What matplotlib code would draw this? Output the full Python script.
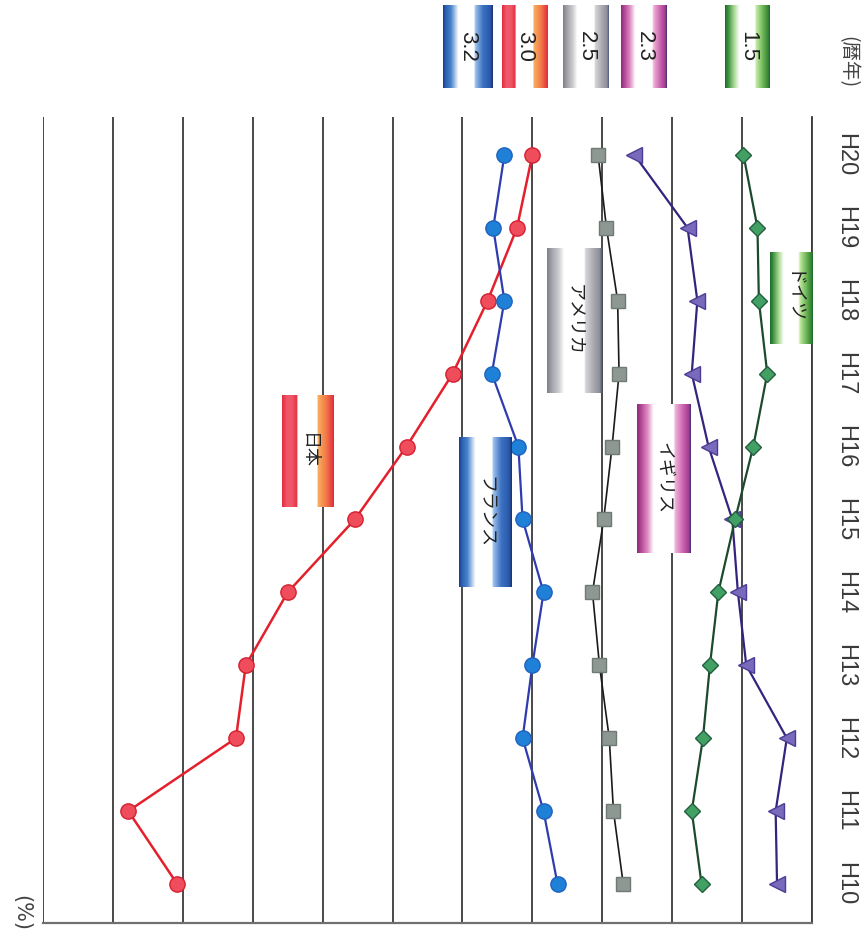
import matplotlib.pyplot as plt
import numpy as np
from matplotlib.colors import LinearSegmentedColormap

# data (values in %)
years = np.arange(10, 21)
year_labels = ["H%d" % y for y in years]

japan = [5.54, 5.89, 5.12, 5.05, 4.75, 4.27, 3.90, 3.57, 3.32, 3.11, 3.00]
france = [2.82, 2.92, 3.07, 3.00, 2.92, 3.07, 3.10, 3.29, 3.20, 3.28, 3.20]
usa = [2.35, 2.42, 2.45, 2.52, 2.57, 2.49, 2.43, 2.38, 2.39, 2.47, 2.53]
uk = [1.25, 1.26, 1.18, 1.47, 1.53, 1.57, 1.74, 1.86, 1.82, 1.89, 2.27]
germany = [1.79, 1.86, 1.78, 1.73, 1.67, 1.55, 1.42, 1.32, 1.38, 1.39, 1.49]

latest = ["3.2", "3.0", "2.5", "2.3", "1.5"]
names = ["日本", "フランス", "アメリカ", "イギリス", "ドイツ"]

W, H = 868, 939
fig = plt.figure(figsize=(W / 100, H / 100), dpi=100)

# main axes (chart is drawn turned on its side: value goes right->left)
ax_left, ax_right, ax_top, ax_bot = 43, 812, 117, 923
ax = fig.add_axes([ax_left / W, (H - ax_bot) / H, (ax_right - ax_left) / W, (ax_bot - ax_top) / H])
ax.set_xlim(6.5, 1.0)
ax.set_ylim(9.465, 20.52)
ax.set_xticks(np.arange(1.0, 6.51, 0.5))
ax.tick_params(axis='x', length=0, labelbottom=False)
ax.grid(axis='x', color='#3a3a3a', lw=1.3)
ax.set_axisbelow(True)
ax.yaxis.tick_right()
ax.set_yticks(years)
ax.set_yticklabels(year_labels, rotation=270, va='center', fontsize=17,
                   family='Liberation Sans', color='#3a3a3a')
ax.tick_params(axis='y', length=0, pad=16)
ax.spines['top'].set_visible(False)
ax.spines['left'].set_visible(False)
ax.spines['right'].set_color('#3a3a3a')
ax.spines['right'].set_linewidth(1.3)
ax.spines['bottom'].set_color('#707070')
ax.spines['bottom'].set_linewidth(1.6)

ax.plot(japan, years, '-o', color='#e4202c', lw=1.8, ms=11,
        mfc='#ef4d5c', mec='#d42030', mew=1, zorder=3)
ax.plot(france, years, '-o', color='#2f3cb0', lw=1.6, ms=11,
        mfc='#1f80d8', mec='#1f62bd', mew=1, zorder=3)
ax.plot(usa, years, '-s', color='#1a1a1a', lw=1.2, ms=10,
        mfc='#8d9892', mec='#6f7a74', mew=1, zorder=3)
ax.plot(uk, years, '-<', color='#35237e', lw=1.6, ms=11,
        mfc='#7a6abb', mec='#4c3c95', mew=1, zorder=3)
ax.plot(germany, years, '-D', color='#1c4a2c', lw=1.6, ms=8,
        mfc='#43a064', mec='#22603e', mew=1, zorder=3)

# overlay in pixel coordinates for the labelled boxes
ov = fig.add_axes([0, 0, 1, 1], zorder=5)
ov.patch.set_alpha(0)
ov.axis('off')

styles = {
    'blue': [(0, '#1b3c86'), (0.05, '#2a5fb0'), (0.16, '#4a84cc'), (0.31, '#ffffff'),
             (0.62, '#ffffff'), (0.65, '#9cc0ea'), (0.8, '#3c72c2'), (0.95, '#2858a8'), (1, '#1a2f70')],
    'red': [(0, '#e42a3c'), (0.1, '#ee5a6a'), (0.2, '#ee5566'), (0.29, '#e43040'), (0.3, '#ffffff'),
            (0.68, '#ffffff'), (0.69, '#f8b060'), (0.85, '#f17a48'), (1, '#e42a3c')],
    'gray': [(0, '#7e7e88'), (0.08, '#a0a0a8'), (0.22, '#cfcfd4'), (0.31, '#ffffff'),
             (0.68, '#ffffff'), (0.7, '#d6d6da'), (0.86, '#a6a6ae'), (0.96, '#8e8e98'), (1, '#4a5a80')],
    'pink': [(0, '#8e2a78'), (0.08, '#b44a98'), (0.2, '#e090c4'), (0.31, '#ffffff'),
             (0.68, '#ffffff'), (0.71, '#f0b0d8'), (0.88, '#c458a8'), (0.96, '#a04090'), (1, '#4a2a7a')],
    'green': [(0, '#1f6a2a'), (0.07, '#3c9040'), (0.2, '#a8d890'), (0.32, '#ffffff'),
              (0.66, '#ffffff'), (0.7, '#c0e8a0'), (0.86, '#66b050'), (0.95, '#3a8a3a'), (1, '#1f6a2a')],
}


def gradient_box(x0, x1, y0, y1, style, text, font, size):
    cmap = LinearSegmentedColormap.from_list(style, styles[style])
    grad = np.linspace(0, 1, 256)[None, :]
    ov.imshow(grad, cmap=cmap, extent=(x0, x1, y1, y0), aspect='auto',
              interpolation='bilinear', zorder=2)
    ov.text((x0 + x1) / 2, (y0 + y1) / 2, text, rotation=270, ha='center', va='center',
            fontsize=size, family=font, color='#222222', zorder=3)


# latest values at the top
top_boxes = [(443, 493, 'blue'), (502, 548, 'red'), (563, 609, 'gray'),
             (621, 667, 'pink'), (725, 770, 'green')]
for (x0, x1, st), lab in zip(top_boxes, latest):
    gradient_box(x0, x1, 5, 88, st, lab, 'Liberation Sans', 16)

# country names
name_boxes = [(282, 334, 395, 507, 'red'), (459, 512, 437, 587, 'blue'),
              (547, 602, 248, 393, 'gray'), (637, 691, 404, 553, 'pink'),
              (770, 813, 252, 344, 'green')]
for (x0, x1, y0, y1, st), lab in zip(name_boxes, names):
    gradient_box(x0, x1, y0, y1, st, lab, 'Noto Sans CJK JP', 13)

ov.text(848, 62, "(暦年)", rotation=270, ha='center', va='center', fontsize=14,
        family='Noto Sans CJK JP', color='#444444')
ov.text(21, 913, "(%)", rotation=270, ha='center', va='center', fontsize=15,
        family='DejaVu Sans', color='#444444')

ov.set_xlim(0, W)
ov.set_ylim(H, 0)

fig.savefig('out.png', dpi=100, facecolor='white')
